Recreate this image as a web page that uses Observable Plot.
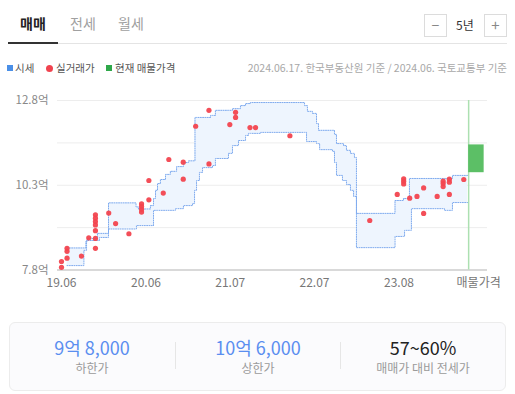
<!DOCTYPE html>
<html><head><meta charset="utf-8">
<script src="https://cdn.jsdelivr.net/npm/d3@7"></script>
<script src="https://cdn.jsdelivr.net/npm/@observablehq/plot@0.6"></script>
<style>
html,body{margin:0;padding:0;background:#fff}
body{width:515px;height:394px;position:relative;overflow:hidden;font-family:"Noto Sans CJK KR","Noto Sans",sans-serif}
.a{position:absolute;white-space:nowrap}
</style></head><body>
<div id="root"></div>
<script>
// ---------- data ----------
const tabs = ["매매", "전세", "월세"];
const periodLabel = "5년";
const legendLabels = ["시세", "실거래가", "현재 매물가격"];
const sourceNote = "2024.06.17. 한국부동산원 기준 / 2024.06. 국토교통부 기준";

// actual transactions (실거래가), 억
const tradeDates = [
  "2019-06-01","2019-06-01","2019-06-26","2019-06-26","2019-06-26","2019-08-30","2019-10-02",
  "2019-11-01","2019-11-01","2019-11-01","2019-11-01","2019-11-01","2019-11-01","2019-11-01",
  "2019-12-31","2020-01-31","2020-03-31","2020-05-27","2020-05-27","2020-05-27","2020-05-27",
  "2020-06-29","2020-06-29","2020-09-02","2020-09-27","2020-12-01","2020-12-01","2021-01-26",
  "2021-03-27","2021-03-27","2021-06-29","2021-07-25","2021-07-25","2021-09-28","2021-10-23",
  "2022-03-27","2023-03-22","2023-07-24","2023-08-22","2023-08-22","2023-08-22","2023-09-18",
  "2023-10-21","2023-11-20","2023-11-20","2024-01-20","2024-02-16","2024-02-16","2024-02-16",
  "2024-03-15","2024-03-15","2024-03-15","2024-05-19"];
const tradePrices = [
  8.05,7.88,8.44,8.35,8.15,8.21,8.75,
  9.43,9.33,9.23,9.13,8.96,8.73,8.44,
  9.48,9.17,8.87,9.75,9.67,9.59,9.51,
  10.44,9.87,10.07,11.06,10.98,10.48,12.04,
  12.51,10.93,12.09,12.45,12.30,12.00,12.00,
  11.76,9.26,10.03,10.49,10.42,10.34,9.92,
  9.97,10.22,9.47,9.97,10.42,10.35,10.26,
  10.48,10.39,10.03,10.47];

// market price band (시세) upper and lower bounds, step changes
const upperDates = ["2019-06-26","2019-09-19","2019-09-25","2019-11-10","2019-12-30","2020-05-02","2020-05-13",
  "2020-07-06","2020-07-20","2020-07-29","2020-08-07","2020-08-20","2020-09-12","2020-10-04","2020-11-01",
  "2020-12-02","2020-12-25","2021-01-23","2021-04-03","2021-04-25","2021-07-11","2021-08-16","2021-09-08",
  "2021-09-30","2022-06-01","2022-06-14","2022-07-07","2022-07-25","2022-08-03","2022-10-14","2022-10-23",
  "2022-11-24","2022-12-07","2022-12-25","2023-01-12","2023-01-21","2023-07-14","2023-08-21","2023-09-17",
  "2024-03-29","2024-06-05"];
const upperValues = [8.45,8.64,8.73,8.88,9.78,9.66,9.60,
  9.70,9.91,10.15,10.35,10.47,10.62,10.71,10.85,
  10.97,11.02,12.30,12.36,12.51,12.56,12.65,12.71,
  12.74,12.65,12.48,12.42,12.12,11.92,11.80,11.53,
  11.47,11.33,11.24,11.12,9.47,9.85,9.91,10.50,
  10.59,10.59];
const lowerDates = ["2019-06-26","2019-09-10","2019-09-22","2019-11-19","2019-12-30","2020-05-04","2020-07-20",
  "2020-10-27","2020-12-02","2021-01-12","2021-01-21","2021-01-30","2021-02-12","2021-02-26","2021-04-12",
  "2021-04-25","2021-06-23","2021-07-11","2021-08-07","2021-09-08","2021-09-21","2021-11-14","2022-06-10",
  "2022-07-25","2022-08-08","2022-10-05","2022-10-14","2022-10-23","2022-11-19","2022-12-07","2022-12-25",
  "2023-01-08","2023-01-21","2023-07-14","2023-08-26","2023-09-26","2024-02-22","2024-03-29","2024-06-05"];
const lowerValues = [7.93,8.38,8.67,8.76,9.01,9.11,9.56,
  9.61,9.70,9.76,10.15,10.44,10.68,10.82,10.88,
  11.09,11.24,11.47,11.62,11.77,11.83,11.86,11.59,
  11.53,11.35,11.30,10.97,10.59,10.44,10.32,10.15,
  9.97,8.46,8.79,8.97,9.61,9.56,9.79,9.79];

// current listing (현재 매물가격)
const listingDate = "2024-06-10";
const listingLow = 10.67;
const listingHigh = 11.49;

// axes
const yDomain = [7.8, 12.8];
const yGridValues = [7.8, 9.05, 10.3, 11.55, 12.8];
const yTickValues = [7.8, 10.3, 12.8];
const xDomain = ["2019-05-14", "2024-09-03"];
const xTickDates = ["2019-06-01","2020-06-16","2021-07-01","2022-07-16","2023-08-01","2024-07-25"];
const xTickLabels = ["19.06","20.06","21.07","22.07","23.08","매물가격"];

// summary
const summaryValues = ["9억 8,000", "10억 6,000", "57~60%"];
const summaryLabels = ["하한가", "상한가", "매매가 대비 전세가"];

// ---------- build ----------
const parse = d3.utcParse("%Y-%m-%d");
const trades = tradeDates.map((d, i) => ({date: parse(d), price: tradePrices[i]}));
const up = upperDates.map((d, i) => ({date: parse(d), v: upperValues[i]}));
const lo = lowerDates.map((d, i) => ({date: parse(d), v: lowerValues[i]}));
const allDates = Array.from(new Set([...upperDates, ...lowerDates])).sort().map(parse);
function stepAt(arr, t) { let v = arr[0].v; for (const p of arr) { if (+p.date <= +t) v = p.v; } return v; }
const band = allDates.map(t => ({date: t, hi: stepAt(up, t), lo: stepAt(lo, t)}));
const listing = [{date: parse(listingDate), low: listingLow, high: listingHigh}];
const xTicks = xTickDates.map(parse);

const root = document.getElementById("root");
function add(html) { root.insertAdjacentHTML("beforeend", html); }

// tabs
const tabX = [20, 70, 118];
tabs.forEach((t, i) => add(`<div class="a" style="left:${tabX[i]}px;top:13px;line-height:20px;font-size:14px;${i===0?'font-weight:bold;color:#222':'color:#a0a0a0'}">${t}</div>`));
add(`<div class="a" style="left:8px;top:42px;width:50px;height:2px;background:#333"></div>`);
add(`<div class="a" style="left:58px;top:43px;width:449px;height:1px;background:#e4e4e4"></div>`);
add(`<div class="a" style="left:424px;top:14px;width:21px;height:21px;border:1px solid #dcdcdc;text-align:center;line-height:20px;font-size:14px;color:#888">−</div>`);
add(`<div class="a" style="left:456px;top:15px;line-height:20px;font-size:12px;color:#333">${periodLabel}</div>`);
add(`<div class="a" style="left:484px;top:14px;width:21px;height:21px;border:1px solid #dcdcdc;text-align:center;line-height:20px;font-size:15px;color:#888">+</div>`);

// legend
add(`<div class="a" style="left:7px;top:65px;width:6px;height:6px;background:#4a8fe7"></div>`);
add(`<div class="a" style="left:15px;top:60px;line-height:16px;font-size:10.5px;color:#555">${legendLabels[0]}</div>`);
add(`<div class="a" style="left:46px;top:64.5px;width:7px;height:7px;border-radius:50%;background:#f0434f"></div>`);
add(`<div class="a" style="left:56px;top:60px;line-height:16px;font-size:10.5px;color:#555">${legendLabels[1]}</div>`);
add(`<div class="a" style="left:106px;top:65px;width:6px;height:6px;background:#2fa84a"></div>`);
add(`<div class="a" style="left:115px;top:60px;line-height:16px;font-size:10.5px;color:#555">${legendLabels[2]}</div>`);
add(`<div class="a" style="right:8px;top:60px;line-height:16px;font-size:10.5px;color:#a8a8a8">${sourceNote}</div>`);

// chart
const chart = Plot.plot({
  width: 515,
  height: 210,
  marginLeft: 57,
  marginRight: 28,
  marginTop: 15,
  marginBottom: 25.5,
  style: {fontFamily: '"Noto Sans CJK KR","Noto Sans",sans-serif', background: "transparent", overflow: "visible"},
  x: {type: "utc", domain: xDomain.map(parse)},
  y: {domain: yDomain},
  marks: [
    Plot.gridY(yGridValues, {stroke: "#ededed", strokeOpacity: 1}),
    Plot.areaY(band, {x: "date", y1: "lo", y2: "hi", curve: "step-after", fill: "#eef5fe"}),
    Plot.lineY(band, {x: "date", y: "hi", curve: "step-after", stroke: "#7eaaee", strokeWidth: 1, strokeDasharray: "1,1.3"}),
    Plot.lineY(band, {x: "date", y: "lo", curve: "step-after", stroke: "#7eaaee", strokeWidth: 1, strokeDasharray: "1,1.3"}),
    Plot.ruleY([yDomain[0]], {stroke: "#cfcfcf", strokeWidth: 1.5}),
    Plot.ruleX(listing, {x: "date", y1: yDomain[1], y2: yDomain[0], stroke: "#ace0b1", strokeWidth: 1.5}),
    Plot.rect(listing, {x1: "date", x2: "date", y1: "low", y2: "high", fill: "#5cbf66", insetRight: -15.5}),
    Plot.dot(trades, {x: "date", y: "price", r: 2.6, fill: "#f2444f", fillOpacity: 0.95}),
    Plot.axisY(yTickValues, {tickSize: 0, tickPadding: 9, fontSize: 11.5, color: "#888", tickFormat: d => d.toFixed(1) + "억"}),
    Plot.axisX(xTicks, {tickSize: 0, tickPadding: 8, fontSize: 12, color: "#777",
      tickFormat: d => xTickLabels[xTicks.findIndex(t => +t === +d)]})
  ]
});
chart.style.position = "absolute";
chart.style.left = "0px";
chart.style.top = "85px";
root.appendChild(chart);

// summary panel
add(`<div class="a" style="left:9px;top:322px;width:495px;height:67px;border:1px solid #ececec;border-radius:6px;background:#fbfbfd"></div>`);
add(`<div class="a" style="left:175px;top:342px;width:1px;height:27px;background:#e6e6e6"></div>`);
add(`<div class="a" style="left:340px;top:342px;width:1px;height:27px;background:#e6e6e6"></div>`);
const centers = [92, 258, 423];
summaryValues.forEach((v, i) => {
  add(`<div class="a" style="left:${centers[i]-80}px;width:160px;text-align:center;top:337px;line-height:20px;font-size:18px;color:${i<2?'#5a8ef0':'#222'}">${v}</div>`);
  add(`<div class="a" style="left:${centers[i]-80}px;width:160px;text-align:center;top:360px;line-height:15px;font-size:12px;color:#9a9a9a">${summaryLabels[i]}</div>`);
});
</script>
</body></html>
